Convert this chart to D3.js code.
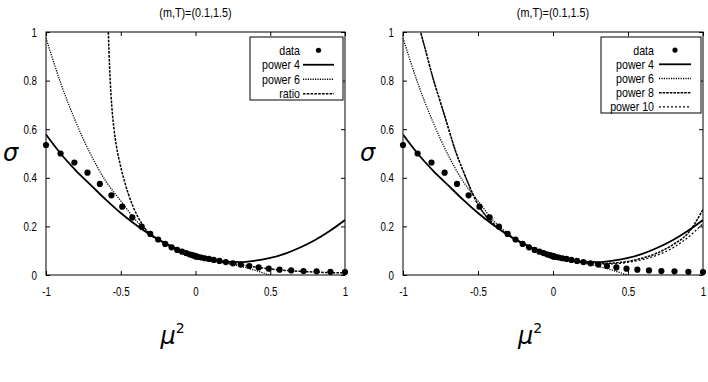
<!DOCTYPE html>
<html>
<head>
<meta charset="utf-8">
<script src="https://cdn.jsdelivr.net/npm/d3@7"></script>
<style>
  body { margin: 0; background: #fff; }
  text { font-family: 'Liberation Sans', Arial, sans-serif; fill: #000; }
</style>
</head>
<body>
<svg id="chart" width="708" height="382"></svg>
<script>
// data points: mu^2 and sigma
const muSq = [-1, -0.9025, -0.81, -0.7225, -0.64, -0.5625, -0.49, -0.4225, -0.36, -0.3025,
  -0.25, -0.2025, -0.16, -0.1225, -0.09, -0.0625, -0.04, -0.0225, -0.01, -0.0025, 0,
  0.0025, 0.01, 0.0225, 0.04, 0.0625, 0.09, 0.1225, 0.16, 0.2025, 0.25,
  0.3025, 0.36, 0.4225, 0.49, 0.5625, 0.64, 0.7225, 0.81, 0.9025, 1];
const sigma = [0.535, 0.500, 0.463, 0.421, 0.375, 0.328, 0.281, 0.237, 0.199, 0.169,
  0.146, 0.128, 0.114, 0.103, 0.096, 0.090, 0.085, 0.082, 0.080, 0.078, 0.077,
  0.077, 0.076, 0.074, 0.072, 0.069, 0.066, 0.062, 0.058, 0.053, 0.048,
  0.043, 0.037, 0.031, 0.026, 0.022, 0.019, 0.016, 0.015, 0.013, 0.012];

// fitted curves
const gridX = [-1, -0.9, -0.8, -0.7, -0.6, -0.5, -0.4, -0.3, -0.2, -0.1, 0,
  0.1, 0.2, 0.3, 0.4, 0.5, 0.6, 0.7, 0.8, 0.9, 1];
const power4 = [0.578, 0.498, 0.43, 0.37, 0.31, 0.255, 0.207, 0.165, 0.13, 0.1, 0.077,
  0.062, 0.055, 0.053, 0.059, 0.07, 0.088, 0.113, 0.144, 0.182, 0.226];
const power6 = [0.975, 0.787, 0.629, 0.495, 0.386, 0.305, 0.226, 0.17, 0.128, 0.098, 0.077,
  0.061, 0.049, 0.036, 0.019, -0.002, -0.03];

const ratioX = [-0.595, -0.583, -0.575, -0.565, -0.545, -0.53, -0.5, -0.47, -0.45, -0.42,
  -0.39, -0.36, -0.33, -0.3, -0.2, -0.1, 0, 0.1, 0.2, 0.3, 0.4, 0.5, 0.6, 0.7, 0.8, 0.9, 1];
const ratio = [1.25, 1.0, 0.86, 0.74, 0.6, 0.535, 0.445, 0.375, 0.335, 0.285,
  0.245, 0.212, 0.185, 0.166, 0.127, 0.099, 0.077, 0.063, 0.052, 0.043, 0.033, 0.025,
  0.019, 0.015, 0.012, 0.010, 0.009];

const highX = [-0.9, -0.85, -0.8, -0.75, -0.7, -0.65, -0.6, -0.55, -0.5, -0.45, -0.4, -0.35,
  -0.3, -0.2, -0.1, 0, 0.1, 0.2, 0.3, 0.4, 0.5, 0.6, 0.7, 0.8, 0.9, 1];
const power8 = [1.04, 0.925, 0.81, 0.71, 0.61, 0.51, 0.43, 0.355, 0.29, 0.245, 0.213, 0.186,
  0.164, 0.128, 0.099, 0.077, 0.062, 0.052, 0.047, 0.049, 0.056, 0.07, 0.092, 0.125, 0.172, 0.27];
const power10 = [1.04, 0.925, 0.81, 0.71, 0.61, 0.51, 0.43, 0.355, 0.29, 0.245, 0.213, 0.186,
  0.164, 0.128, 0.099, 0.077, 0.062, 0.052, 0.046, 0.046, 0.052, 0.064, 0.083, 0.112, 0.155, 0.212];

const xTicks = [-1, -0.5, 0, 0.5, 1];
const xTickLabels = ["-1", "-0.5", "0", "0.5", "1"];
const yTicks = [0, 0.2, 0.4, 0.6, 0.8, 1];
const yTickLabels = ["0", "0.2", "0.4", "0.6", "0.8", "1"];
const title = "(m,T)=(0.1,1.5)";

const svg = d3.select("#chart");
svg.append("rect").attr("width", 708).attr("height", 382).attr("fill", "#fff");

const plotTop = 32, plotBottom = 275;
const y = d3.scaleLinear().domain([0, 1]).range([plotBottom, plotTop]);

const styles = {
    "power 4": { dash: null, width: 1.8 },
    "power 6": { dash: "1.2,1.2", width: 1.3 },
    "ratio": { dash: "2.6,1.2", width: 1.5 },
    "power 8": { dash: "2.6,1", width: 1.5 },
    "power 10": { dash: "2,2", width: 1.2 }
};

// squeeze text horizontally, the plot uses a narrow font
function condense(sel, f) {
    sel.each(function () {
        const w = this.getComputedTextLength();
        this.setAttribute("textLength", w * f);
        this.setAttribute("lengthAdjust", "spacingAndGlyphs");
    });
}

function drawPanel(id, left, right, curves, legendBox) {
    const x = d3.scaleLinear().domain([-1, 1]).range([left, right]);
    const g = svg.append("g");

    g.append("clipPath").attr("id", "clip" + id)
        .append("rect")
        .attr("x", left).attr("y", plotTop)
        .attr("width", right - left).attr("height", plotBottom - plotTop);

    // axes with inward ticks, gnuplot style
    const fmtX = (d, i) => xTickLabels[i];
    const fmtY = (d, i) => yTickLabels[i];
    const axB = g.append("g").attr("transform", `translate(0,${plotBottom})`)
        .call(d3.axisBottom(x).tickValues(xTicks).tickSize(-4).tickPadding(12).tickFormat(fmtX));
    const axT = g.append("g").attr("transform", `translate(0,${plotTop})`)
        .call(d3.axisTop(x).tickValues(xTicks).tickSize(-4).tickFormat(""));
    const axL = g.append("g").attr("transform", `translate(${left},0)`)
        .call(d3.axisLeft(y).tickValues(yTicks).tickSize(-4).tickPadding(9).tickFormat(fmtY));
    const axR = g.append("g").attr("transform", `translate(${right},0)`)
        .call(d3.axisRight(y).tickValues(yTicks).tickSize(-4).tickFormat(""));
    [axB, axT, axL, axR].forEach(a => {
        a.select(".domain").remove();
        a.selectAll("line").attr("stroke", "#000");
        a.selectAll("text").style("font-size", "12.5px")
            .style("font-family", "'Liberation Sans', sans-serif");
        condense(a.selectAll("text"), 0.78);
    });

    const line = d3.line()
        .x(d => x(d[0]))
        .y(d => y(d[1]))
        .curve(d3.curveMonotoneX);

    const cg = g.append("g").attr("clip-path", `url(#clip${id})`);
    curves.forEach(c => {
        const pts = c.xs.map((v, i) => [v, c.ys[i]]);
        const st = styles[c.name];
        cg.append("path")
            .attr("d", line(pts))
            .attr("fill", "none")
            .attr("stroke", "#000")
            .attr("stroke-width", st.width)
            .attr("stroke-dasharray", st.dash);
    });

    g.selectAll("circle.pt")
        .data(muSq.map((v, i) => [v, sigma[i]]))
        .join("circle")
        .attr("class", "pt")
        .attr("cx", d => x(d[0]))
        .attr("cy", d => y(d[1]))
        .attr("r", 3.1)
        .attr("fill", "#000");

    // border
    g.append("rect")
        .attr("x", left).attr("y", plotTop)
        .attr("width", right - left).attr("height", plotBottom - plotTop)
        .attr("fill", "none").attr("stroke", "#000").attr("stroke-width", 1);

    // legend
    const names = ["data"].concat(curves.map(c => c.name));
    const lb = legendBox;
    g.append("rect")
        .attr("x", lb.x0).attr("y", lb.y0)
        .attr("width", lb.x1 - lb.x0)
        .attr("height", 5 + names.length * lb.step)
        .attr("fill", "#fff").attr("stroke", "#000").attr("stroke-width", 1);
    names.forEach((n, i) => {
        const ry = lb.y0 + 6 + lb.step * (i + 0.5);
        const t = g.append("text")
            .attr("x", lb.textX).attr("y", ry)
            .attr("dy", "0.35em")
            .attr("text-anchor", "end")
            .style("font-size", "13px")
            .text(n);
        condense(t, 0.82);
        if (n === "data") {
            g.append("circle")
                .attr("cx", (lb.s0 + lb.s1) / 2).attr("cy", ry)
                .attr("r", 2.6).attr("fill", "#000");
        } else {
            const st = styles[n];
            g.append("line")
                .attr("x1", lb.s0).attr("x2", lb.s1)
                .attr("y1", ry).attr("y2", ry)
                .attr("stroke", "#000")
                .attr("stroke-width", st.width)
                .attr("stroke-dasharray", st.dash);
        }
    });

    // labels
    const tt = g.append("text")
        .attr("x", (left + right) / 2).attr("y", 17)
        .attr("text-anchor", "middle")
        .style("font-size", "12px")
        .text(title);
    condense(tt, 0.9);

    g.append("text")
        .attr("x", left - 43).attr("y", 161)
        .style("font-family", "'DejaVu Sans', sans-serif")
        .style("font-style", "italic")
        .style("font-size", "24px")
        .text("σ");

    const xl = g.append("text")
        .attr("x", (left + right) / 2 - 35).attr("y", 344)
        .style("font-family", "'DejaVu Sans', sans-serif")
        .style("font-size", "24px");
    xl.append("tspan").style("font-style", "italic").text("μ");
    xl.append("tspan").attr("dy", -11).style("font-size", "14px").text("2");
}

drawPanel(1, 46, 345, [
    { name: "power 4", xs: gridX, ys: power4 },
    { name: "power 6", xs: gridX.slice(0, power6.length), ys: power6 },
    { name: "ratio", xs: ratioX, ys: ratio }
], { x0: 250, x1: 343, y0: 37, step: 14.5, textX: 300, s0: 303, s1: 334 });

drawPanel(2, 403, 703, [
    { name: "power 4", xs: gridX, ys: power4 },
    { name: "power 6", xs: gridX.slice(0, power6.length), ys: power6 },
    { name: "power 8", xs: highX, ys: power8 },
    { name: "power 10", xs: highX, ys: power10 }
], { x0: 601, x1: 701, y0: 37, step: 14.2, textX: 654, s0: 659, s1: 691 });
</script>
</body>
</html>
